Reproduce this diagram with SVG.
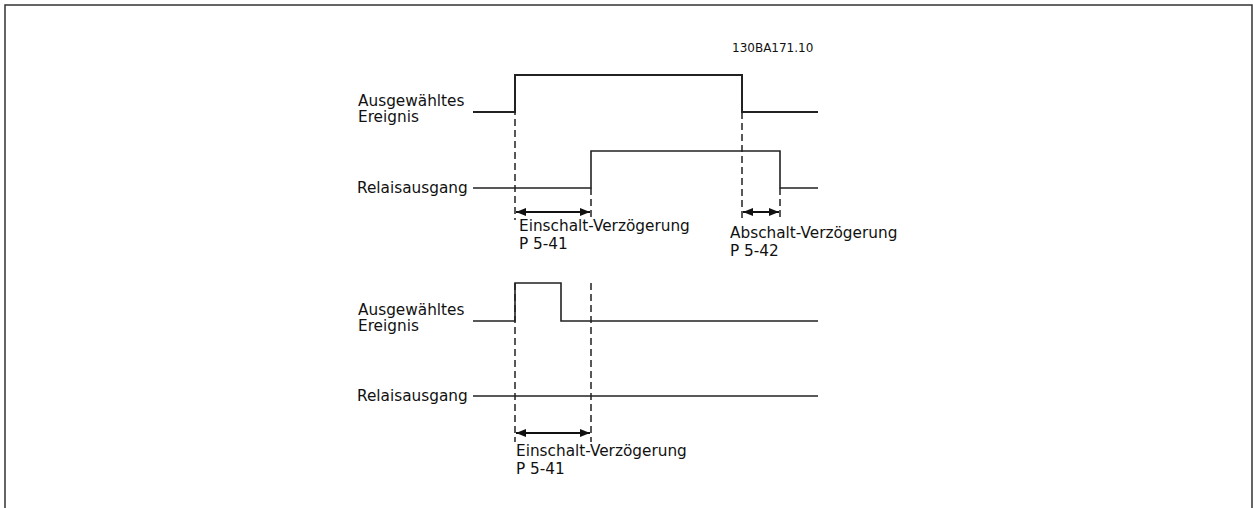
<svg xmlns="http://www.w3.org/2000/svg" width="1253" height="508" viewBox="0 0 1253 508">
<defs>
<style>
.t{font-family:"DejaVu Sans",Verdana,sans-serif;font-size:15.3px;fill:#111}
.s{font-family:"DejaVu Sans",Verdana,sans-serif;font-size:12px;fill:#111}
.sig{fill:none;stroke:#222;stroke-width:2}
.sig2{fill:none;stroke:#222;stroke-width:1.6}
.d{fill:none;stroke:#222;stroke-width:1.5;stroke-dasharray:7 4}
.a{stroke:#111;stroke-width:2;marker-start:url(#ah);marker-end:url(#ah)}
</style>
<marker id="ah" viewBox="0 0 10 8" refX="10" refY="4" markerWidth="11" markerHeight="8" markerUnits="userSpaceOnUse" orient="auto-start-reverse">
<path d="M0,0 L10,4 L0,8 z" fill="#111"/>
</marker>
</defs>
<rect width="1253" height="508" fill="#fff"/>
<path d="M5,508 V5 H1252 V508" fill="none" stroke="#333" stroke-width="1.5"/>
<text class="s" x="732" y="52">130BA171.10</text>
<g id="event1">
<text class="t" x="358" y="106">Ausgewähltes</text>
<text class="t" x="358" y="122">Ereignis</text>
<path class="sig" d="M473,112 H515 V75 H742 V112 H818"/>
</g>
<g id="relay1">
<text class="t" x="357" y="193">Relaisausgang</text>
<path class="sig2" d="M473,188 H591 V151 H780 V188 H818"/>
</g>
<g id="event2">
<text class="t" x="358" y="315">Ausgewähltes</text>
<text class="t" x="358" y="331">Ereignis</text>
<path class="sig2" d="M473,321 H515 V283 H561 V321 H818"/>
</g>
<g id="relay2">
<text class="t" x="357" y="401">Relaisausgang</text>
<path class="sig2" d="M473,396 H818"/>
</g>
<g id="connectors">
<line class="d" x1="515" y1="75" x2="515" y2="220"/>
<line class="d" x1="591" y1="188" x2="591" y2="220"/>
<line class="d" x1="742" y1="112" x2="742" y2="220"/>
<line class="d" x1="780" y1="188" x2="780" y2="220"/>
<line class="a" x1="516" y1="212" x2="590" y2="212"/>
<line class="a" x1="743" y1="212" x2="779" y2="212"/>
<line class="d" x1="515" y1="283" x2="515" y2="442"/>
<line class="d" x1="591" y1="283" x2="591" y2="442"/>
<line class="a" x1="516" y1="433" x2="590" y2="433"/>
</g>
<g id="labels">
<text class="t" x="519" y="231">Einschalt-Verzögerung</text>
<text class="t" x="519" y="249">P 5-41</text>
<text class="t" x="730" y="238">Abschalt-Verzögerung</text>
<text class="t" x="730" y="256">P 5-42</text>
<text class="t" x="516" y="456">Einschalt-Verzögerung</text>
<text class="t" x="516" y="474">P 5-41</text>
</g>
</svg>
